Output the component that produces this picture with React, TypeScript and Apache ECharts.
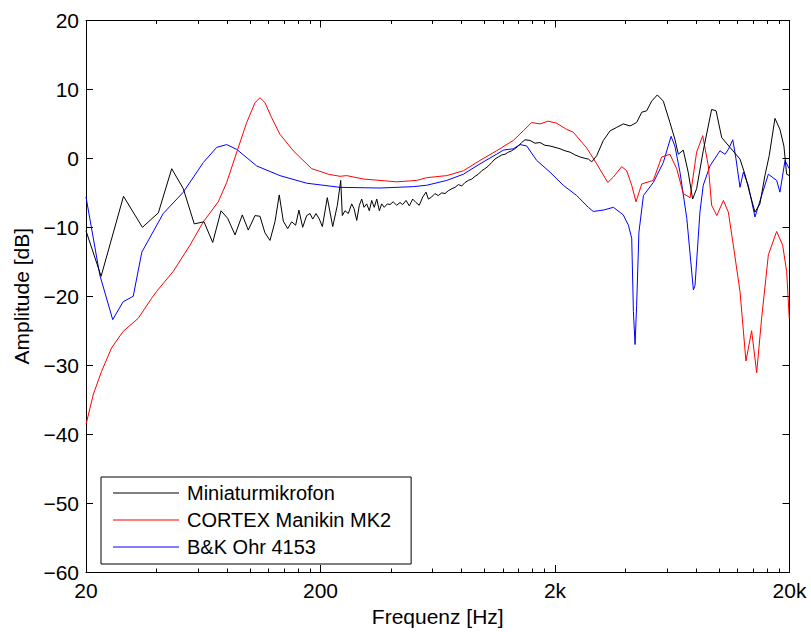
import React, { useEffect, useRef } from 'react';
import * as echarts from 'echarts';

const FONT = '"Liberation Sans", Arial, Helvetica, sans-serif';

const xTickValues = [20, 200, 2000, 20000];
const xTickLabels = ['20', '200', '2k', '20k'];
const xMinorTicks = [40, 60, 80, 100, 120, 140, 160, 180, 400, 600, 800, 1000, 1200, 1400, 1600, 1800, 4000, 6000, 8000, 10000, 12000, 14000, 16000, 18000];
const yMin = -60;
const yMax = 20;
const yStep = 10;

const seriesNames = ['Miniaturmikrofon', 'CORTEX Manikin MK2', 'B&K Ohr 4153'];
const seriesColors = ['#000000', '#ff0000', '#0000ff'];

const miniatur: number[][] = [
  [20, -10.5], [23.2, -17.1], [28.9, -5.5], [34.8, -10.0], [40.7, -7.9], [46.4, -1.5], [52.0, -4.4], [57.9, -9.5],
  [63.7, -9.2], [69.4, -12.2], [75.3, -7.6], [80.4, -8.7], [86.4, -11.1], [92.8, -8.2], [98.4, -10.4], [105.1, -8.3],
  [110.4, -8.4], [115.9, -10.8], [121.8, -11.9], [127.9, -9.2], [133.4, -5.3], [138.8, -9.1], [144.9, -10.2],
  [150.7, -9.2], [156.7, -9.7], [161.8, -7.5], [167.9, -10.0], [174.6, -8.3], [180.3, -8.0], [185.3, -8.8],
  [191.4, -8.0], [197.7, -8.8], [203.7, -9.9], [213.8, -5.7], [225.5, -9.9], [236.0, -6.8], [243.9, -3.2],
  [247.8, -8.3], [254.5, -7.6], [262.8, -8.0], [271.7, -6.6], [278, -7.3], [285.5, -9.0], [292.9, -6.8],
  [299.8, -5.9], [306.6, -7.1], [314.8, -6.6], [323, -7.6], [330.6, -6.1], [339.1, -7.1], [347.5, -5.9],
  [356.4, -7.6], [364.7, -6.6], [374.1, -7.1], [385.5, -6.6], [395.6, -6.7], [408.3, -6.3], [422.6, -6.8],
  [436.5, -6.4], [448.2, -6.7], [463.3, -6.1], [478.5, -6.9], [494.4, -5.9], [510.5, -6.4], [527.4, -6.8],
  [545.8, -5.6], [563.7, -4.9], [576.8, -5.9], [595.7, -5.6], [615.3, -5.1], [635.6, -5.4], [657.6, -5.0],
  [679.3, -5.1], [701.6, -4.7], [726.1, -4.4], [750, -4.2], [774.6, -3.8], [800.4, -4.0], [826.5, -3.5],
  [853.7, -3.2], [883.2, -3.0], [912.2, -2.6], [942, -2.3], [973.5, -1.8], [1005, -1.5], [1040, -1.1],
  [1074, -0.6], [1109, -0.1], [1146, 0.2], [1186, 0.5], [1225, 0.6], [1265, 0.9], [1307, 1.1], [1349, 1.4],
  [1396, 1.8], [1442, 2.3], [1490, 2.7], [1564, 2.6], [1644, 2.2], [1726, 2.3], [1812, 1.9], [1905, 1.8],
  [2000, 1.6], [2100, 1.4], [2208, 1.1], [2318, 0.9], [2433, 0.5], [2559, 0.2], [2687, 0.0], [2775, -0.1],
  [2870, -0.5], [3013, 0.4], [3215, 2.6], [3436, 4.0], [3667, 4.5], [3910, 5.0], [4178, 4.7], [4459, 5.2],
  [4690, 6.7], [4920, 6.9], [5166, 8.3], [5461, 9.2], [5794, 8.3], [6181, 5.2], [6489, 2.8], [6714, 0.6],
  [7047, 1.2], [7397, -2.0], [7726, -5.9], [8035, -4.4], [8574, 1.1], [9311, 7.1], [9726, 6.9], [10280, 3.0],
  [11150, 1.6], [12300, -0.1], [12910, -2.3], [13550, -5.1], [14250, -7.8], [14960, -6.6], [15710, -2.5],
  [16390, 0.4], [17340, 5.8], [18210, 4.2], [18930, 1.8], [19450, -2.3], [19950, -2.5],
];

const cortex: number[][] = [
  [20, -38.6], [21.5, -34.2], [23.3, -30.9], [25.7, -27.5], [28.8, -25.1], [33.4, -23.2], [38.1, -20.3],
  [40.0, -19.3], [47.1, -16.4], [55.5, -12.6], [63.3, -9.2], [73.3, -6.3], [79.6, -3.5], [87.9, 0.9],
  [96.9, 5.2], [105.2, 8.1], [110.4, 8.8], [115.9, 8.1], [123.8, 5.9], [134.3, 3.5], [153.1, 1.1],
  [183.5, -1.5], [195.8, -1.8], [215.9, -2.3], [242.3, -2.6], [258.8, -2.5], [304.9, -3.0], [422.6, -3.4],
  [514.2, -3.2], [567.4, -2.8], [690.6, -2.5], [813.1, -1.8], [957.2, -0.3], [1127, 1.1], [1328, 2.6],
  [1465, 4.0], [1591, 5.2], [1726, 5.0], [1871, 5.4], [2033, 5.1], [2243, 4.2], [2393, 3.8], [2731, 1.5],
  [3013, -0.8], [3358, -3.5], [3550, -2.7], [3849, -1.2], [4046, -1.8], [4248, -3.9], [4429, -6.3],
  [4690, -3.7], [5251, -3.2], [5701, 0.2], [6181, 0.6], [6607, -1.5], [7047, -5.1], [7534, -5.7],
  [8035, 0.9], [8530, 3.3], [9014, -1.1], [9311, -6.8], [9795, -8.3], [10450, -6.1], [10970, -7.8],
  [11520, -12.6], [12300, -19.3], [13040, -29.4], [13790, -25.0], [14490, -31.1], [15210, -23.2],
  [16250, -14.0], [17630, -10.6], [18700, -12.6], [19450, -16.4], [19950, -23.2],
];

const bk: number[][] = [
  [20, -5.6], [22.9, -16.9], [26.0, -23.4], [28.8, -20.8], [31.8, -20.0], [34.6, -13.6], [42.7, -8.0],
  [52.0, -4.9], [63.3, -0.6], [72.2, 1.6], [79.6, 2.0], [87.9, 1.3], [106.9, -1.1], [134.3, -2.5],
  [174.6, -3.6], [242.3, -4.2], [358.8, -4.3], [497.8, -4.1], [567.4, -3.9], [690.6, -3.2], [813.1, -2.3],
  [957.2, -0.8], [1127, 0.6], [1205, 1.2], [1328, 1.4], [1419, 2.0], [1515, 1.8], [1671, -0.3], [1905, -2.0],
  [2169, -3.9], [2476, -5.4], [2775, -7.1], [2912, -7.7], [3215, -7.5], [3550, -7.1], [3910, -8.2],
  [4113, -9.7], [4248, -11.6], [4319, -22.2], [4390, -27.0], [4459, -21.3], [4560, -10.7], [4766, -5.4],
  [5251, -3.5], [5794, -0.6], [6252, 3.2], [6489, 1.8], [6823, -2.0], [7295, -8.7], [7784, -19.1],
  [7911, -18.4], [8300, -7.8], [8574, -3.9], [9163, -1.1], [10100, 1.1], [10620, 0.6], [10970, 1.3],
  [11460, 2.7], [11830, -0.1], [12300, -4.2], [12710, -2.0], [13340, -3.9], [14250, -8.5], [15210, -5.4],
  [16250, -2.3], [17630, -3.2], [18210, -4.9], [19140, -0.3], [19950, -1.5],
];

const seriesData = [miniatur, cortex, bk];

function xLabel(v: number): string {
  const i = xTickValues.findIndex((t) => Math.abs(Math.log10(t) - Math.log10(v)) < 1e-6);
  return i >= 0 ? xTickLabels[i] : '';
}

function yLabel(v: number): string {
  return v < 0 ? '\u2212' + Math.abs(v) : String(v);
}

export default function App() {
  const ref = useRef<HTMLDivElement>(null);

  useEffect(() => {
    if (!ref.current) return;
    const chart = echarts.init(ref.current, undefined, { renderer: 'svg' });

    const black = '#000000';
    const baseX = {
      type: 'log' as const,
      logBase: 10,
      min: 20,
      max: 20000,
      gridIndex: 0,
      splitLine: { show: false },
      minorTick: { show: false },
      minorSplitLine: { show: false },
    };

    chart.setOption({
      animation: false,
      backgroundColor: '#ffffff',
      textStyle: { fontFamily: FONT },
      grid: { left: 86, top: 20.5, right: 21.5, bottom: 56.5, containLabel: false },
      legend: {
        show: true,
        orient: 'vertical',
        left: 101,
        top: 477,
        padding: [6, 20, 7, 12],
        itemGap: 7,
        itemWidth: 66,
        itemHeight: 1,
        icon: 'rect',
        borderColor: black,
        borderWidth: 1,
        backgroundColor: '#ffffff',
        textStyle: { fontFamily: FONT, fontSize: 20, color: black, padding: [0, 0, 0, 3] },
        data: seriesNames,
      },
      xAxis: [
        {
          ...baseX,
          position: 'bottom',
          axisLine: { show: true, onZero: false, lineStyle: { color: black, width: 1 } },
          axisTick: { show: true, inside: true, length: 7, customValues: xTickValues, lineStyle: { color: black, width: 1 } },
          axisLabel: {
            show: true,
            customValues: xTickValues,
            formatter: xLabel,
            fontFamily: FONT,
            fontSize: 21,
            color: black,
            margin: 8,
          },
          name: 'Frequenz [Hz]',
          nameLocation: 'middle',
          nameGap: 34,
          nameTextStyle: { fontFamily: FONT, fontSize: 21, color: black },
        },
        {
          ...baseX,
          position: 'bottom',
          axisLine: { show: false, onZero: false },
          axisTick: { show: true, inside: true, length: 3.5, customValues: xMinorTicks, lineStyle: { color: black, width: 1 } },
          axisLabel: { show: false },
        },
        {
          ...baseX,
          position: 'top',
          axisLine: { show: true, onZero: false, lineStyle: { color: black, width: 1 } },
          axisTick: { show: true, inside: true, length: 7, customValues: xTickValues, lineStyle: { color: black, width: 1 } },
          axisLabel: { show: false },
        },
        {
          ...baseX,
          position: 'top',
          axisLine: { show: false, onZero: false },
          axisTick: { show: true, inside: true, length: 3.5, customValues: xMinorTicks, lineStyle: { color: black, width: 1 } },
          axisLabel: { show: false },
        },
      ],
      yAxis: [
        {
          type: 'value',
          min: yMin,
          max: yMax,
          interval: yStep,
          position: 'left',
          axisLine: { show: true, onZero: false, lineStyle: { color: black, width: 1 } },
          axisTick: { show: true, inside: true, length: 7, lineStyle: { color: black, width: 1 } },
          axisLabel: { show: true, formatter: yLabel, fontFamily: FONT, fontSize: 21, color: black, margin: 7 },
          splitLine: { show: false },
          name: 'Amplitude [dB]',
          nameLocation: 'middle',
          nameGap: 52,
          nameTextStyle: { fontFamily: FONT, fontSize: 21, color: black },
        },
        {
          type: 'value',
          min: yMin,
          max: yMax,
          interval: yStep,
          position: 'right',
          axisLine: { show: true, onZero: false, lineStyle: { color: black, width: 1 } },
          axisTick: { show: true, inside: true, length: 7, lineStyle: { color: black, width: 1 } },
          axisLabel: { show: false },
          splitLine: { show: false },
        },
      ],
      series: seriesData.map((data, i) => ({
        name: seriesNames[i],
        type: 'line',
        xAxisIndex: 0,
        yAxisIndex: 0,
        data,
        color: seriesColors[i],
        showSymbol: false,
        symbol: 'none',
        lineStyle: { color: seriesColors[i], width: 1 },
        z: 3 - i,
      })),
    });

    return () => chart.dispose();
  }, []);

  return (
    <div
      ref={ref}
      style={{ position: 'absolute', left: 0, top: 0, width: 811, height: 632, background: '#ffffff' }}
    />
  );
}
